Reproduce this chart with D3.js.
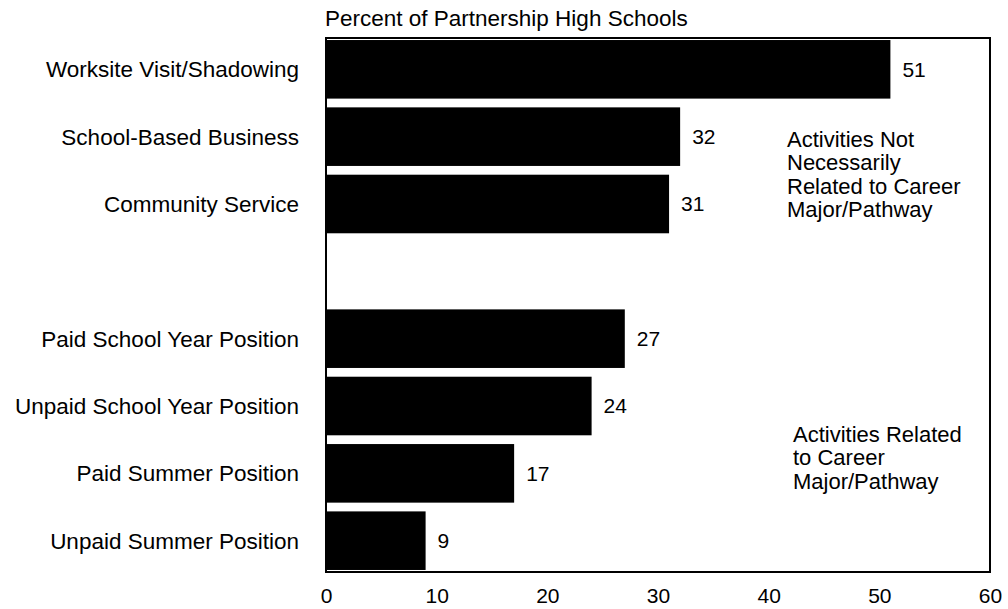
<!DOCTYPE html>
<html><head><meta charset="utf-8">
<script src="https://cdn.jsdelivr.net/npm/d3@7"></script>
<style>body{margin:0;background:#fff}svg{display:block}text{font-family:"Liberation Sans",Arial,sans-serif;fill:#000}</style>
</head><body><svg id="c" width="1008" height="609"></svg>
<script>
const categories = ["Worksite Visit/Shadowing","School-Based Business","Community Service","","Paid School Year Position","Unpaid School Year Position","Paid Summer Position","Unpaid Summer Position"];
const values = [51,32,31,null,27,24,17,9];
const ticks = [0,10,20,30,40,50,60];
const title = "Percent of Partnership High Schools";
const note1 = ["Activities Not","Necessarily","Related to Career","Major/Pathway"];
const note2 = ["Activities Related","to Career","Major/Pathway"];

const svg = d3.select("#c");
const m = {l:326, r:990, t:38, b:572};
const x = d3.scaleLinear().domain([0,60]).range([m.l, m.r]);
const slots = categories.map((c,i)=>i);
const y = d3.scaleBand().domain(slots).range([m.t, m.b]).paddingInner(0.13).paddingOuter(0.03);

const data = categories.map((c,i)=>({c, v: values[i], i})).filter(d=>d.v!=null);

svg.selectAll("rect.bar").data(data).join("rect").attr("class","bar")
  .attr("x", x(0)).attr("y", d=>y(d.i)).attr("width", d=>x(d.v)-x(0)).attr("height", y.bandwidth()).attr("fill","#000");

// frame
svg.append("rect").attr("x",m.l).attr("y",m.t).attr("width",m.r-m.l).attr("height",m.b-m.t)
  .attr("fill","none").attr("stroke","#000").attr("stroke-width",2);

svg.selectAll("text.val").data(data).join("text").attr("class","val")
  .attr("x", d=>x(d.v)+12).attr("y", d=>y(d.i)+y.bandwidth()/2).attr("dy","0.35em")
  .attr("font-size",21).text(d=>d.v);

svg.selectAll("text.cat").data(data).join("text").attr("class","cat")
  .attr("x", 299).attr("y", d=>y(d.i)+y.bandwidth()/2).attr("dy","0.35em")
  .attr("text-anchor","end").attr("font-size",22.5).text(d=>d.c);

const ax = d3.axisBottom(x).tickValues(ticks).tickSize(0).tickPadding(0);
const g = svg.append("g").attr("transform",`translate(0,${m.b+16})`).call(ax);
g.select(".domain").remove();
g.selectAll("text").attr("font-size",21).attr("dy","0.71em").style("font-family","'Liberation Sans',Arial,sans-serif").attr("fill","#000");

svg.append("text").attr("x",m.l-1).attr("y",26).attr("font-size",22.5).text(title);

svg.append("text").attr("x",787).attr("y",147).attr("font-size",22)
  .selectAll("tspan").data(note1).join("tspan").attr("x",787).attr("dy",(d,i)=>i?23.3:0).text(d=>d);
svg.append("text").attr("x",793).attr("y",442).attr("font-size",22)
  .selectAll("tspan").data(note2).join("tspan").attr("x",793).attr("dy",(d,i)=>i?23.3:0).text(d=>d);
</script></body></html>
